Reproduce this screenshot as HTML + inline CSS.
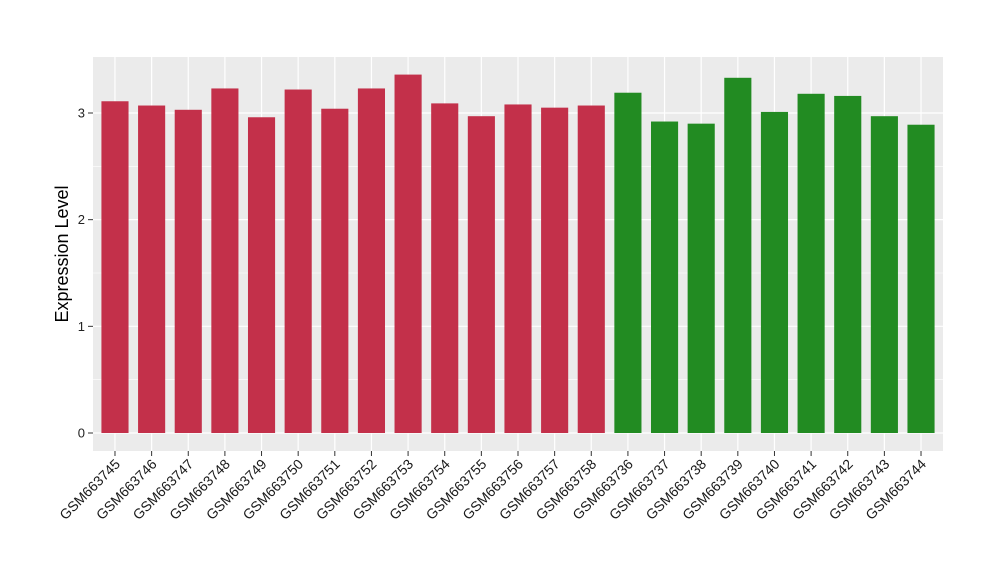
<!DOCTYPE html>
<html><head><meta charset="utf-8">
<style>
html,body{margin:0;padding:0;background:#fff;}
svg{display:block;font-family:"Liberation Sans",sans-serif;}
</style></head>
<body>
<svg id="chart" width="1000" height="580" viewBox="0 0 1000 580">
<rect x="93" y="57" width="850" height="394" fill="#EBEBEB"/>
<g id="grid"></g>
<g id="bars"></g>
<g id="yaxis"></g>
<g id="xaxis"></g>
<text x="68" y="254" font-size="18" text-anchor="middle" transform="rotate(-90 68 254)" fill="#000">Expression Level</text>
</svg>
<script>
const categories = ["GSM663745","GSM663746","GSM663747","GSM663748","GSM663749","GSM663750","GSM663751","GSM663752","GSM663753","GSM663754","GSM663755","GSM663756","GSM663757","GSM663758","GSM663736","GSM663737","GSM663738","GSM663739","GSM663740","GSM663741","GSM663742","GSM663743","GSM663744"];
const values = [3.11,3.07,3.03,3.23,2.96,3.22,3.04,3.23,3.36,3.09,2.97,3.08,3.05,3.07,3.19,2.92,2.90,3.33,3.01,3.18,3.16,2.97,2.89];
const groups = ["a","a","a","a","a","a","a","a","a","a","a","a","a","a","b","b","b","b","b","b","b","b","b"];
const yTicks = [0,1,2,3];
const groupColors = {a:"#C3304A", b:"#228B22"};

const NS = "http://www.w3.org/2000/svg";
const panelL = 93, panelR = 943;
const y = v => 433 - v * 106.67;
const n = categories.length;
const step = (panelR - panelL) / (n + 0.2);
const x = i => panelL + step * 0.6 + i * step;
const barW = step * 0.74;

function mk(tag, attrs, parent){ const e = document.createElementNS(NS, tag); for (const k in attrs) e.setAttribute(k, attrs[k]); parent.appendChild(e); return e; }
const grid = document.getElementById('grid'), bars = document.getElementById('bars'), ya = document.getElementById('yaxis'), xa = document.getElementById('xaxis');

for (let t = 0; t < yTicks.length; t++) {
  const v = yTicks[t];
  const gl = mk('line', {x1: panelL, x2: panelR, y1: y(v), y2: y(v), stroke: '#fff', 'stroke-width': 1.2}, grid);
  
  
  if (t < yTicks.length - 1) {
    const mg = mk('line', {x1: panelL, x2: panelR, y1: y(v + 0.5), y2: y(v + 0.5), stroke: '#fff', 'stroke-width': 0.6}, grid);
    
    
  }
  const tk = mk('line', {x1: 88, x2: 93, y1: y(v), y2: y(v), stroke: '#333', 'stroke-width': 1}, ya);
  
  
  const tl = mk('text', {x: 85, y: y(v) + 4.5, 'font-size': 13, 'text-anchor': 'end', fill: '#222'}, ya);
  tl.textContent = v;
  
  
}
for (let i = 0; i < n; i++) {
  const vl = mk('line', {x1: x(i), x2: x(i), y1: 57, y2: 451, stroke: '#fff', 'stroke-width': 1.2}, grid);
  
  
  const b = mk('rect', {x: x(i) - barW / 2, y: y(values[i]), width: barW, height: y(0) - y(values[i]), fill: groupColors[groups[i]]}, bars);
  
  
  const tk = mk('line', {x1: x(i), x2: x(i), y1: 451, y2: 456, stroke: '#333', 'stroke-width': 1}, xa);
  
  
  const tx = x(i) + 6, ty = 465;
  const tl = mk('text', {x: tx, y: ty, 'font-size': 14, 'text-anchor': 'end', fill: '#1a1a1a', transform: 'rotate(-45 ' + tx + ' ' + ty + ')'}, xa);
  tl.textContent = categories[i];
  
  
}
</script>
</body></html>
